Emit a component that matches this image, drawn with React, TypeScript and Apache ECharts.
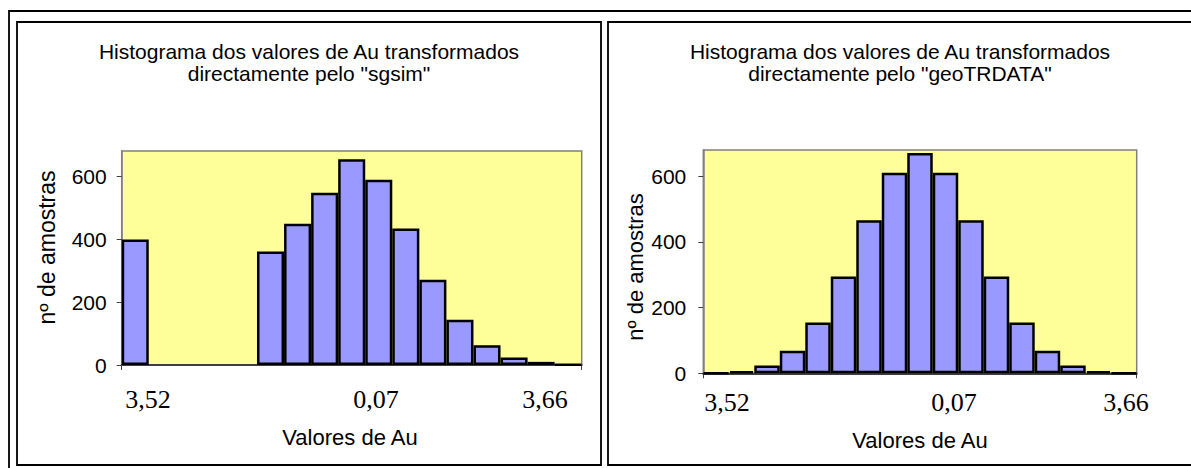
import React, { useEffect, useRef } from "react";
import * as echarts from "echarts";

// Histogram bins (17 classes) and counts per bin
const bins = ["1", "2", "3", "4", "5", "6", "7", "8", "9", "10", "11", "12", "13", "14", "15", "16", "17"];
const sgsimCounts = [399, 0, 0, 0, 0, 361, 449, 547, 654, 589, 434, 271, 144, 63, 24, 10, 2];
const geoTrdataCounts = [1, 7, 24, 69, 155, 295, 466, 611, 671, 611, 466, 295, 155, 69, 24, 7, 1];

// Axis settings and texts
const yTicks = [0, 200, 400, 600];
const yMax = 680;
const xTickLabels = ["3,52", "0,07", "3,66"];
const xAxisTitle = "Valores de Au";
const yAxisTitle = "nº de amostras";
const titleLine1 = "Histograma dos valores de Au transformados";
const titleLines2 = ['directamente pelo "sgsim"', 'directamente pelo "geoTRDATA"'];

const SANS = "'Liberation Sans', Arial, Helvetica, sans-serif";
const SERIF = "'Liberation Serif', 'Times New Roman', serif";

// Panel layout (pixels)
const panels = [
  {
    counts: sgsimCounts,
    grid: { left: 121.7, top: 151, width: 460, height: 214 },
    frame: { x: 17, y: 22, width: 584, height: 443 },
    titleX: 309,
    xLabelX: [148, 376, 545],
    xLabelY: 399,
    xTitle: { x: 350, y: 437 },
    yTitle: { x: 46.5, y: 247.5, size: 23 },
    labelMargin: 15,
  },
  {
    counts: geoTrdataCounts,
    grid: { left: 703.3, top: 150, width: 433.4, height: 223.3 },
    frame: { x: 608, y: 22, width: 600, height: 443 },
    titleX: 900,
    xLabelX: [727, 954, 1126],
    xLabelY: 402,
    xTitle: { x: 920, y: 440 },
    yTitle: { x: 635, y: 267, size: 22 },
    labelMargin: 17,
  },
];

function text(x: number, y: number, str: string, size: number, family: string, rotation = 0) {
  return {
    type: "text",
    x,
    y,
    rotation,
    silent: true,
    style: {
      text: str,
      fill: "#000",
      fontSize: size,
      fontFamily: family,
      textAlign: "center",
      textVerticalAlign: "middle",
      align: "center",
      verticalAlign: "middle",
    },
  };
}

export default function App() {
  const ref = useRef<HTMLDivElement>(null);

  useEffect(() => {
    if (!ref.current) return;
    const chart = echarts.init(ref.current, undefined, { renderer: "svg" });

    const graphics: any[] = [
      {
        type: "rect",
        silent: true,
        shape: { x: 9, y: 11, width: 1220, height: 480 },
        style: { fill: "none", stroke: "#000", lineWidth: 1.8 },
      },
    ];

    panels.forEach((p, i) => {
      graphics.push({
        type: "rect",
        silent: true,
        shape: { ...p.frame },
        style: { fill: "#fff", stroke: "#000", lineWidth: 1.8 },
        z: -10,
      });
      graphics.push(text(p.titleX, 51, titleLine1, 21, SANS));
      graphics.push(text(p.titleX, 73, titleLines2[i], 21, SANS));
      xTickLabels.forEach((lab, k) => {
        graphics.push(text(p.xLabelX[k], p.xLabelY, lab, 26, SERIF));
      });
      graphics.push(text(p.xTitle.x, p.xTitle.y, xAxisTitle, 22, SANS));
      graphics.push(text(p.yTitle.x, p.yTitle.y, yAxisTitle, p.yTitle.size, SANS, Math.PI / 2));
    });

    const option: any = {
      animation: false,
      backgroundColor: "#fff",
      grid: panels.map((p) => ({
        ...p.grid,
        show: true,
        backgroundColor: "#FFFF99",
        borderColor: "#808080",
        borderWidth: 1.5,
        containLabel: false,
      })),
      xAxis: panels.map((_, i) => ({
        type: "category",
        gridIndex: i,
        data: bins,
        boundaryGap: true,
        axisLine: { show: true, lineStyle: { color: "#404040", width: 2 } },
        axisTick: {
          show: true,
          length: 5,
          interval: (idx: number) => idx === 0,
          lineStyle: { color: "#404040", width: 1 },
        },
        axisLabel: { show: false },
        splitLine: { show: false },
      })),
      yAxis: panels.map((p, i) => ({
        type: "value",
        gridIndex: i,
        min: 0,
        max: yMax,
        interval: 200,
        axisLine: { show: true, lineStyle: { color: "#808080", width: 1.5 } },
        axisTick: {
          show: true,
          length: 5,
          customValues: yTicks,
          lineStyle: { color: "#404040", width: 1 },
        },
        axisLabel: {
          customValues: yTicks,
          margin: p.labelMargin,
          fontSize: 21,
          fontFamily: SANS,
          color: "#000",
        },
        splitLine: { show: false },
      })),
      series: panels.map((p, i) => ({
        type: "bar",
        xAxisIndex: i,
        yAxisIndex: i,
        barCategoryGap: "0%",
        barGap: "0%",
        data: p.counts.map((v) => ({
          value: v,
          itemStyle: v === 0 ? { borderWidth: 0 } : undefined,
        })),
        itemStyle: { color: "#9999FF", borderColor: "#000", borderWidth: 2.5 },
        emphasis: { disabled: true },
      })),
      graphic: graphics,
    };

    chart.setOption(option);
    return () => chart.dispose();
  }, []);

  return (
    <div
      ref={ref}
      style={{ position: "absolute", left: 0, top: 0, width: 1191, height: 468 }}
    />
  );
}
